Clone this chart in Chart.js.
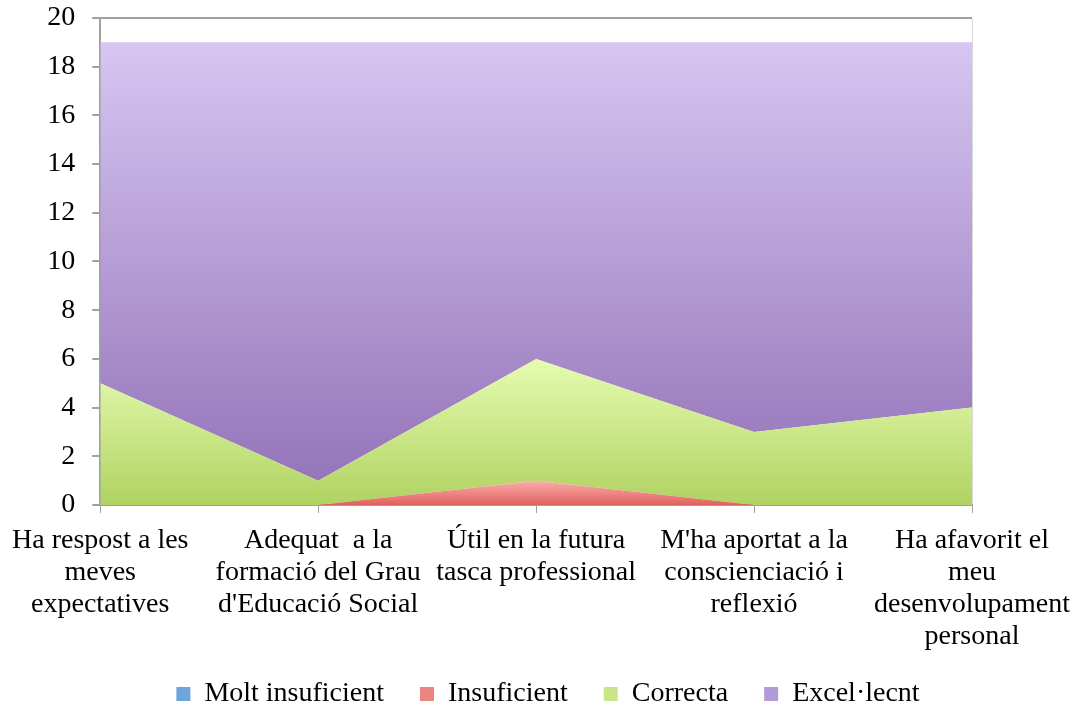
<!doctype html>
<html lang="ca">
<head>
  <meta charset="utf-8" />
  <title>Valoració</title>
  <script src="https://cdn.jsdelivr.net/npm/chart.js@4.4.1/dist/chart.umd.min.js"></script>
  <style>
    body { margin: 0; background: #fff; }
    .wrap { width: 1082px; height: 711px; position: relative; }
  </style>
</head>
<body>
  <div class="wrap"><canvas id="chart"></canvas></div>

  <script>
    // Categories (multi-line labels)
    const categories = [
      ["Ha respost a les", "meves", "expectatives"],
      ["Adequat  a la", "formació del Grau", "d'Educació Social"],
      ["Útil en la futura", "tasca professional"],
      ["M'ha aportat a la", "conscienciació i", "reflexió"],
      ["Ha afavorit el", "meu", "desenvolupament", "personal"]
    ];

    // Series values
    const moltInsuficient = [0, 0, 0, 0, 0];
    const insuficient = [0, 0, 1, 0, 0];
    const correcta = [5, 1, 5, 3, 4];
    const excellent = [14, 18, 13, 16, 15];

    const seriesNames = ["Molt insuficient", "Insuficient", "Correcta", "Excel·lecnt"];

    // gradient colours (top -> bottom) and the value where each gradient starts
    const palette = [
      { top: "#9cc3ec", bottom: "#5a93d2", hi: 1, solid: "#6fa3dc" },
      { top: "#fbaeae", bottom: "#df625c", hi: 1, solid: "#ec8580" },
      { top: "#e6fcb0", bottom: "#b0d262", hi: 6, solid: "#c9e58a" },
      { top: "#d6c6f1", bottom: "#9270b7", hi: 19, solid: "#b49ad6" }
    ];

    const fontFamily = "'Liberation Serif', 'Times New Roman', serif";

    function areaFill(idx) {
      return (ctx) => {
        const chart = ctx.chart;
        const p = palette[idx];
        if (!chart.chartArea || !chart.scales.y) return p.solid;
        const yTop = chart.scales.y.getPixelForValue(p.hi);
        const yBot = chart.scales.y.getPixelForValue(0);
        const g = chart.ctx.createLinearGradient(0, yTop, 0, yBot);
        g.addColorStop(0, p.top);
        g.addColorStop(1, p.bottom);
        return g;
      };
    }

    const values = [moltInsuficient, insuficient, correcta, excellent];

    const datasets = values.map((v, i) => ({
      label: seriesNames[i],
      data: v,
      fill: i === 0 ? "origin" : "-1",
      backgroundColor: areaFill(i),
      borderWidth: 0,
      pointRadius: 0,
      pointHoverRadius: 0,
      tension: 0
    }));

    // legend sits centred on the whole picture and a bit closer to the labels
    const legendShift = {
      id: "legendShift",
      afterLayout(chart) {
        chart.legend.left += 47;
        chart.legend.right += 47;
        chart.legend.top -= 21;
        chart.legend.bottom -= 21;
      }
    };

    new Chart(document.getElementById("chart"), {
      type: "line",
      data: { labels: categories, datasets: datasets },
      plugins: [legendShift],
      options: {
        responsive: true,
        maintainAspectRatio: false,
        animation: false,
        layout: { padding: { top: 0, right: 110, left: 30, bottom: -28 } },
        plugins: {
          tooltip: { enabled: false },
          legend: {
            position: "bottom",
            labels: {
              color: "#000",
              font: { family: fontFamily, size: 28 },
              boxWidth: 14,
              boxHeight: 14,
              padding: 36,
              generateLabels: () => seriesNames.map((name, i) => ({
                text: name,
                fillStyle: palette[i].solid,
                strokeStyle: palette[i].solid,
                lineWidth: 0,
                datasetIndex: i
              }))
            }
          }
        },
        scales: {
          x: {
            offset: false,
            grid: {
              drawOnChartArea: true,
              color: (c) => c.index === categories.length - 1 ? "#d9d9d9" : "rgba(0,0,0,0)",
              tickColor: "#a0a0a0",
              tickLength: 8
            },
            border: { color: "#a0a0a0", width: 2 },
            ticks: {
              color: "#000",
              maxRotation: 0,
              autoSkip: false,
              padding: 12,
              font: { family: fontFamily, size: 28, lineHeight: 1.143 }
            }
          },
          y: {
            stacked: true,
            min: 0,
            max: 20,
            afterFit: (s) => { s.paddingTop = 18; },
            grid: {
              drawOnChartArea: true,
              color: (c) => c.tick && c.tick.value === 20 ? "#a0a0a0" : "rgba(0,0,0,0)",
              tickColor: "#a0a0a0",
              tickLength: 8,
              lineWidth: 2
            },
            border: { color: "#a0a0a0", width: 2 },
            ticks: {
              stepSize: 2,
              color: "#000",
              padding: 17,
              font: { family: fontFamily, size: 28 }
            }
          }
        }
      }
    });
  </script>
</body>
</html>
